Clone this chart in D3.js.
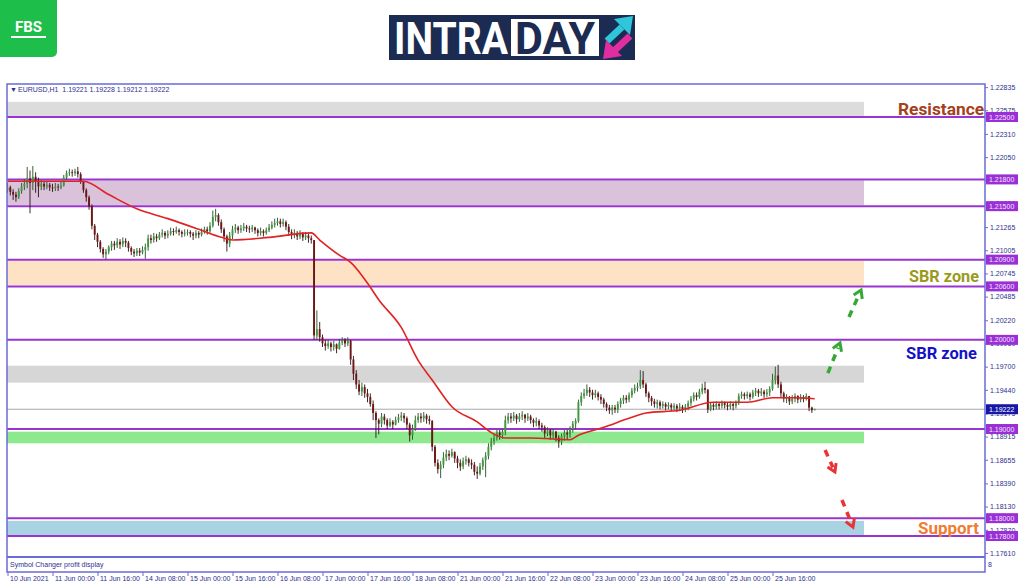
<!DOCTYPE html>
<html><head><meta charset="utf-8">
<script src="https://cdn.jsdelivr.net/npm/d3@7"></script>
<style>
body{margin:0;background:#fff;}
svg{display:block;}
text{font-family:"Liberation Sans",Arial,sans-serif;}
</style></head><body>
<svg id="c" width="1024" height="587"></svg>
<script>
// ---------- DATA ----------
const firstOpen = 1.2168;
const closes = [
1.2171,1.2166,1.2163,1.2160,1.2167,1.2172,1.2175,
1.2181,1.2176,1.2183,1.2178,1.2172,
1.2175,1.2172,1.2174,1.2171,1.2170,1.2172,1.2171,1.2173,
1.2182,1.2187,1.2188,1.2187,1.2189,1.2186,1.2178,
1.2168,1.2160,1.2150,1.2128,1.2118,1.2110,1.2102,1.2096,1.2099,
1.2104,1.2108,1.2106,1.2110,1.2107,1.2111,1.2109,1.2103,1.2099,1.2097,1.2100,1.2098,1.2101,1.2104,
1.2114,1.2112,1.2116,1.2114,1.2118,1.2120,1.2117,
1.2119,1.2122,1.2121,1.2123,1.2121,1.2119,1.2120,1.2121,1.2119,1.2117,1.2120,1.2118,1.2121,1.2124,1.2122,
1.2128,1.2138,1.2140,1.2132,1.2124,1.2116,1.2108,1.2117,
1.2124,1.2126,1.2123,1.2125,1.2127,1.2125,1.2124,1.2126,1.2123,1.2120,1.2122,1.2120,1.2123,1.2126,1.2129,1.2131,1.2133,1.2130,1.2132,1.2127,
1.2121,1.2118,1.2120,1.2116,1.2119,1.2115,1.2117,1.2114,1.2112,
1.2005,1.2012,1.2003,1.1996,1.1993,1.1996,1.1992,1.1995,1.1990,1.1997,1.2000,1.1996,1.1999,
1.1978,1.1962,1.1950,1.1942,1.1947,1.1940,1.1936,1.1928,1.1918,1.1910,
1.1906,1.1914,1.1910,1.1904,1.1908,1.1905,1.1910,1.1913,1.1915,1.1912,1.1905,1.1893,1.1900,1.1910,1.1914,1.1912,1.1915,1.1911,1.1909,
1.1880,1.1862,1.1855,1.1860,
1.1868,1.1872,1.1870,1.1874,1.1867,1.1862,1.1858,1.1864,1.1866,1.1862,1.1860,1.1852,1.1850,1.1858,1.1865,1.1870,1.1880,1.1886,1.1890,1.1896,1.1893,1.1897,1.1910,1.1914,
1.1912,1.1915,1.1911,1.1914,1.1916,1.1912,1.1914,1.1910,1.1907,1.1909,1.1904,1.1902,1.1895,1.1899,1.1893,1.1897,1.1890,1.1886,1.1892,1.1896,1.1894,1.1900,1.1906,1.1909,1.1930,1.1937,
1.1940,1.1944,1.1941,1.1938,1.1940,1.1936,1.1933,1.1928,1.1924,1.1921,1.1924,1.1922,1.1928,1.1932,1.1935,1.1933,1.1938,1.1943,1.1946,1.1948,1.1955,1.1950,1.1940,1.1935,1.1931,1.1928,1.1930,1.1926,
1.1928,1.1925,1.1927,1.1924,1.1926,1.1923,1.1925,1.1922,1.1925,1.1929,1.1934,1.1938,1.1936,1.1942,1.1946,1.1944,1.1922,
1.1927,1.1925,1.1928,1.1926,1.1929,1.1927,1.1925,1.1928,1.1926,1.1929,
1.1937,1.1939,1.1937,1.1939,1.1936,1.1941,1.1943,1.1940,1.1942,1.1939,1.1941,1.1945,1.1955,1.1960,1.1950,1.1940,1.1934,
1.1936,1.1931,1.1934,1.1937,1.1933,1.1936,1.1934,1.1937,1.1924,1.1921,1.19222
];
const highs = [
1.2176,1.2173,1.2169,1.2166,1.2170,1.2176,1.2180,
1.2194,1.2190,1.2195,1.2188,1.2182,
1.2179,1.2178,1.2178,1.2176,1.2175,1.2176,1.2175,1.2178,
1.2185,1.2190,1.2192,1.2191,1.2192,1.2194,1.2188,
1.2178,1.2170,1.2162,1.2152,1.2130,1.2120,1.2112,1.2104,1.2102,
1.2106,1.2111,1.2111,1.2114,1.2113,1.2115,1.2114,1.2111,1.2105,1.2102,1.2103,1.2103,1.2105,1.2108,
1.2118,1.2118,1.2120,1.2119,1.2121,1.2124,1.2122,
1.2123,1.2126,1.2125,1.2127,1.2125,1.2123,1.2124,1.2124,1.2123,1.2121,1.2123,1.2122,1.2125,1.2127,1.2127,
1.2132,1.2145,1.2147,1.2142,1.2135,1.2126,1.2118,1.2121,
1.2128,1.2130,1.2128,1.2129,1.2131,1.2129,1.2128,1.2129,1.2127,1.2125,1.2126,1.2124,1.2126,1.2130,1.2133,1.2136,1.2137,1.2136,1.2136,1.2134,
1.2130,1.2124,1.2124,1.2122,1.2123,1.2121,1.2121,1.2119,1.2117,
1.2095,1.2033,1.2020,1.2006,1.2000,1.2000,1.1998,1.1999,1.1996,1.2001,1.2003,1.2002,1.2003,
1.2000,1.1982,1.1966,1.1955,1.1952,1.1950,1.1945,1.1940,1.1932,1.1920,
1.1912,1.1918,1.1917,1.1912,1.1912,1.1910,1.1914,1.1917,1.1919,1.1918,1.1914,1.1907,1.1905,1.1915,1.1918,1.1918,1.1919,1.1917,1.1915,
1.1910,1.1882,1.1866,1.1864,
1.1874,1.1877,1.1876,1.1878,1.1875,1.1870,1.1866,1.1868,1.1870,1.1868,1.1866,1.1863,1.1858,1.1862,1.1868,1.1874,1.1884,1.1890,1.1895,1.1899,1.1899,1.1900,1.1915,1.1918,
1.1918,1.1919,1.1917,1.1918,1.1920,1.1917,1.1918,1.1916,1.1912,1.1913,1.1911,1.1907,1.1904,1.1902,1.1900,1.1900,1.1898,1.1893,1.1895,1.1899,1.1899,1.1903,1.1909,1.1912,1.1933,1.1941,
1.1945,1.1950,1.1947,1.1944,1.1944,1.1942,1.1939,1.1935,1.1930,1.1927,1.1927,1.1927,1.1931,1.1935,1.1938,1.1938,1.1941,1.1946,1.1950,1.1952,1.1966,1.1965,1.1952,1.1942,1.1937,1.1934,1.1933,1.1932,
1.1931,1.1930,1.1930,1.1929,1.1929,1.1928,1.1929,1.1927,1.1928,1.1932,1.1937,1.1941,1.1941,1.1945,1.1951,1.1953,1.1945,
1.1930,1.1929,1.1931,1.1930,1.1932,1.1931,1.1930,1.1931,1.1930,1.1932,
1.1940,1.1942,1.1941,1.1942,1.1941,1.1944,1.1946,1.1945,1.1946,1.1944,1.1945,1.1948,1.1962,1.1970,1.1972,1.1953,1.1942,
1.1939,1.1937,1.1938,1.1940,1.1938,1.1939,1.1938,1.1940,1.1937,1.1925,1.19228
];
const lows = [
1.2165,1.2162,1.2157,1.2155,1.2158,1.2164,1.2168,
1.2170,1.2142,1.2168,1.2165,1.2160,
1.2168,1.2168,1.2169,1.2167,1.2166,1.2167,1.2167,1.2169,
1.2172,1.2180,1.2184,1.2183,1.2184,1.2182,1.2175,
1.2165,1.2155,1.2146,1.2124,1.2112,1.2104,1.2098,1.2092,1.2090,
1.2096,1.2100,1.2101,1.2103,1.2102,1.2104,1.2104,1.2099,1.2095,1.2093,1.2094,1.2094,1.2096,1.2091,
1.2100,1.2108,1.2109,1.2110,1.2112,1.2115,1.2113,
1.2114,1.2117,1.2117,1.2119,1.2117,1.2115,1.2116,1.2117,1.2115,1.2112,1.2114,1.2114,1.2116,1.2119,1.2118,
1.2120,1.2126,1.2133,1.2128,1.2120,1.2110,1.2099,1.2104,
1.2113,1.2120,1.2119,1.2120,1.2122,1.2121,1.2120,1.2121,1.2119,1.2116,1.2117,1.2116,1.2118,1.2121,1.2124,1.2126,1.2128,1.2126,1.2127,1.2123,
1.2117,1.2113,1.2114,1.2112,1.2113,1.2111,1.2112,1.2109,1.2108,
1.2000,1.2000,1.1998,1.1992,1.1988,1.1990,1.1987,1.1988,1.1985,1.1989,1.1994,1.1992,1.1993,
1.1972,1.1955,1.1945,1.1938,1.1937,1.1935,1.1930,1.1925,1.1910,1.1890,
1.1894,1.1902,1.1905,1.1900,1.1902,1.1900,1.1904,1.1907,1.1909,1.1907,1.1900,1.1886,1.1888,1.1898,1.1907,1.1907,1.1908,1.1906,1.1905,
1.1875,1.1858,1.1850,1.1845,
1.1856,1.1864,1.1865,1.1868,1.1862,1.1856,1.1853,1.1855,1.1860,1.1858,1.1855,1.1848,1.1844,1.1848,1.1854,1.1846,1.1866,1.1876,1.1882,1.1887,1.1888,1.1889,1.1893,1.1906,
1.1907,1.1909,1.1906,1.1908,1.1910,1.1907,1.1909,1.1906,1.1902,1.1903,1.1900,1.1897,1.1890,1.1892,1.1888,1.1889,1.1886,1.1879,1.1882,1.1887,1.1888,1.1890,1.1896,1.1900,1.1907,1.1926,
1.1934,1.1937,1.1936,1.1933,1.1935,1.1932,1.1928,1.1924,1.1920,1.1917,1.1916,1.1918,1.1918,1.1924,1.1928,1.1929,1.1930,1.1935,1.1940,1.1942,1.1945,1.1946,1.1936,1.1930,1.1926,1.1924,1.1923,1.1922,
1.1923,1.1921,1.1922,1.1920,1.1921,1.1919,1.1920,1.1918,1.1919,1.1921,1.1926,1.1931,1.1932,1.1934,1.1939,1.1940,1.1918,
1.1920,1.1921,1.1922,1.1922,1.1923,1.1923,1.1921,1.1922,1.1921,1.1923,
1.1927,1.1934,1.1933,1.1934,1.1932,1.1934,1.1937,1.1936,1.1937,1.1935,1.1936,1.1937,1.1943,1.1950,1.1946,1.1936,1.1930,
1.1929,1.1927,1.1928,1.1930,1.1929,1.1930,1.1930,1.1932,1.1920,1.1918,1.19212
];
// moving average (read at selected bars)
const maIdx = [0,27,36,46,57,68,76,80,93,108,111,118,122,129,132,140,146,151,158,167,172,177,186,200,203,212,221,227,239,251,263,272,280,287];
const maVal = [1.2178,1.2178,1.2163,1.2147,1.2136,1.2124,1.2115,1.2112,1.2115,1.2120,1.2112,1.2095,1.2087,1.2059,1.2045,1.2014,1.1977,1.1955,1.1925,1.1908,1.1896,1.1890,1.1890,1.1888,1.1893,1.1902,1.1912,1.1918,1.1921,1.1930,1.1930,1.1935,1.1935,1.1934];

const timeTickIdx = [0,16,32,48,64,80,96,112,128,144,160,176,192,208,224,240,256,272];
const timeLabels = ["10 Jun 2021","11 Jun 00:00","11 Jun 16:00","14 Jun 08:00","15 Jun 00:00","15 Jun 16:00","16 Jun 08:00","17 Jun 00:00","17 Jun 16:00","18 Jun 08:00","21 Jun 00:00","21 Jun 16:00","22 Jun 08:00","23 Jun 00:00","23 Jun 16:00","24 Jun 08:00","25 Jun 00:00","25 Jun 16:00"];
const priceTicks = [1.22835,1.22575,1.22310,1.22050,1.21790,1.21530,1.21265,1.21005,1.20745,1.20485,1.20220,1.19960,1.19700,1.19440,1.19175,1.18915,1.18655,1.18390,1.18130,1.17870,1.17610];
const levels = [1.22500,1.21800,1.21500,1.20900,1.20600,1.20000,1.19000,1.18000,1.17800];
const zoneLow  = [1.2251,1.2151,1.2061,1.1952,1.1884,1.1781];
const zoneHigh = [1.2267,1.2179,1.2089,1.1971,1.1897,1.1797];
const currentPrice = 1.19222;
const headerText = "EURUSD,H1  1.19221 1.19228 1.19212 1.19222";
const noteTexts  = ["Resistance","SBR zone","SBR zone","Support"];
const notePrices = [1.22522,1.20649,1.19785,1.17823];
// arrows: [startIdx,startPrice,endIdx,endPrice]
const arrowsUp   = [[299.2,1.20257,303.5,1.20559],[291.7,1.19628,296.0,1.19965]];
const arrowsDown = [[290.7,1.18765,294.2,1.18518],[296.7,1.18204,300.6,1.17901]];

// ---------- STYLE / LAYOUT ----------
const L = 7, R = 985, T = 84, B = 556, SUBB = 572;
const zoneFill = ["#dcdcdc","#d9c2da","#fde2c6","#d6d6d6","#8ee88e","#a9d3e3"];
const noteFill = ["#a5401c","#9a9a1c","#1212c8","#f07c30"];
const noteRight = [984,979,977,979];
const noteWidth = [86,70,71,61];
const axisCol = "#6b6bd8", textCol = "#2f2f8f", levelCol = "#9a34d0";

const svg = d3.select("#c");
const x = d3.scaleLinear().domain([0,272]).range([7.5,772.5]);
const y = d3.scaleLinear().domain([1.175756,1.228702]).range([B,T]);

// logos
const fbs = svg.append("g");
fbs.append("rect").attr("x",-4).attr("y",-4).attr("width",61).attr("height",61).attr("rx",5).attr("fill","#1ebe4a");
fbs.append("text").attr("x",28.5).attr("y",32).attr("text-anchor","middle").attr("fill","#fff")
  .style("font-family","Roboto").style("font-weight",700).style("font-size","15px").text("FBS");
fbs.append("rect").attr("x",11).attr("y",36).attr("width",35).attr("height",2).attr("fill","#fff");

const lg = svg.append("g");
lg.append("rect").attr("x",389).attr("y",15).attr("width",246).attr("height",45).attr("fill","#1b2b52");
lg.append("text").attr("x",394).attr("y",54).attr("fill","#fff").attr("textLength",114).attr("lengthAdjust","spacingAndGlyphs")
  .style("font-family","Roboto").style("font-weight",700).style("font-size","44px").text("INTRA");
lg.append("rect").attr("x",511).attr("y",19).attr("width",88).attr("height",37).attr("fill","#fff");
lg.append("text").attr("x",515).attr("y",54).attr("fill","#1b2b52").attr("textLength",80).attr("lengthAdjust","spacingAndGlyphs")
  .style("font-family","Roboto").style("font-weight",700).style("font-size","44px").text("DAY");
lg.append("line").attr("x1",607).attr("y1",41).attr("x2",622).attr("y2",27).attr("stroke","#2ec6d8").attr("stroke-width",7);
lg.append("polygon").attr("points","633,16 614,19 630,35").attr("fill","#2ec6d8");
lg.append("line").attr("x1",630).attr("y1",36).attr("x2",615).attr("y2",50).attr("stroke","#e02ea0").attr("stroke-width",7);
lg.append("polygon").attr("points","603,59 622,56 606,40").attr("fill","#e02ea0");

// clip
svg.append("clipPath").attr("id","plot").append("rect").attr("x",L).attr("y",T).attr("width",R-L).attr("height",B-T);
const plot = svg.append("g").attr("clip-path","url(#plot)");

// zones
plot.selectAll("rect.zone").data(zoneLow).join("rect").attr("class","zone")
  .attr("x",L).attr("width",864-L)
  .attr("y",(d,i)=>y(zoneHigh[i])).attr("height",(d,i)=>y(d)-y(zoneHigh[i]))
  .attr("fill",(d,i)=>zoneFill[i]);

// current price line
plot.append("line").attr("x1",L).attr("x2",R).attr("y1",y(currentPrice)).attr("y2",y(currentPrice))
  .attr("stroke","#a8a8a8").attr("stroke-width",1);

// level lines
plot.selectAll("line.lvl").data(levels).join("line").attr("class","lvl")
  .attr("x1",L).attr("x2",R).attr("y1",d=>y(d)).attr("y2",d=>y(d))
  .attr("stroke",levelCol).attr("stroke-width",2);

// candles
const bars = closes.map((c,i)=>({i, o: i===0?firstOpen:closes[i-1], c, h: highs[i], l: lows[i]}));
plot.selectAll("line.wick").data(bars).join("line").attr("class","wick")
  .attr("x1",d=>x(d.i)).attr("x2",d=>x(d.i)).attr("y1",d=>y(d.h)).attr("y2",d=>y(d.l))
  .attr("stroke",d=>d.c>=d.o?"#244f24":"#2a1010").attr("stroke-width",0.9);
plot.selectAll("rect.body").data(bars).join("rect").attr("class","body")
  .attr("x",d=>x(d.i)-0.95).attr("width",1.9)
  .attr("y",d=>y(Math.max(d.o,d.c))).attr("height",d=>Math.max(0.8,Math.abs(y(d.o)-y(d.c))))
  .attr("fill",d=>d.c>=d.o?"#3f9a3f":"#6e1616");

// MA line
const maPts = maIdx.map((d,i)=>[d,maVal[i]]);
plot.append("path").datum(maPts)
  .attr("d",d3.line().x(d=>x(d[0])).y(d=>y(d[1])).curve(d3.curveMonotoneX))
  .attr("fill","none").attr("stroke","#e02222").attr("stroke-width",1.6);

// arrows
function drawArrow(a,col){
  const x1=x(a[0]),y1=y(a[1]),x2=x(a[2]),y2=y(a[3]);
  const ang=Math.atan2(y2-y1,x2-x1);
  const bx=x2-Math.cos(ang)*5, by=y2-Math.sin(ang)*5;
  plot.append("line").attr("x1",x1).attr("y1",y1).attr("x2",bx).attr("y2",by)
    .attr("stroke",col).attr("stroke-width",3.5).attr("stroke-dasharray","7,6");
  const h=9, s=0.55;
  const p1=[x2-h*Math.cos(ang-s),y2-h*Math.sin(ang-s)];
  const p2=[x2-h*Math.cos(ang+s),y2-h*Math.sin(ang+s)];
  plot.append("polyline").attr("points",`${p1} ${x2},${y2} ${p2}`)
    .attr("fill","none").attr("stroke",col).attr("stroke-width",3).attr("stroke-linejoin","miter");
}
arrowsUp.forEach(a=>drawArrow(a,"#36a836"));
arrowsDown.forEach(a=>drawArrow(a,"#e83434"));

// notes
svg.selectAll("text.note").data(noteTexts).join("text").attr("class","note")
  .attr("x",(d,i)=>noteRight[i]-noteWidth[i]).attr("y",(d,i)=>y(notePrices[i]))
  .attr("textLength",(d,i)=>noteWidth[i]).attr("lengthAdjust","spacingAndGlyphs")
  .attr("fill",(d,i)=>noteFill[i])
  .style("font-family","Roboto").style("font-weight",700).style("font-size","17px")
  .text(d=>d);

// header
svg.append("text").attr("x",10).attr("y",92).attr("fill",textCol).style("font-size","7px").text("\u25BC");
svg.append("text").attr("x",18).attr("y",92).attr("fill",textCol).style("font-size","7px").attr("xml:space","preserve").text(headerText);

// frame
const fr = svg.append("g").attr("fill","none").attr("stroke",axisCol);
fr.append("rect").attr("x",L).attr("y",T).attr("width",R-L).attr("height",SUBB-T).attr("stroke-width",1.5);
fr.append("line").attr("x1",L).attr("x2",R).attr("y1",B+1).attr("y2",B+1).attr("stroke-width",2.2);
svg.append("text").attr("x",10).attr("y",567).attr("fill",textCol).style("font-size","7px").text("Symbol Changer profit display");
svg.append("text").attr("x",988).attr("y",567).attr("fill",textCol).style("font-size","7px").text("8");

// price axis
const ya = svg.append("g").attr("transform",`translate(${R},0)`)
  .call(d3.axisRight(y).tickValues(priceTicks).tickSize(3).tickPadding(2).tickFormat(d3.format(".5f")));
ya.select(".domain").remove();
ya.selectAll("line").attr("stroke",axisCol);
ya.selectAll("text").attr("fill",textCol).style("font-size","7px").style("font-family","Liberation Sans");

// time axis
const xa = svg.append("g").attr("transform",`translate(0,${SUBB})`)
  .call(d3.axisBottom(x).tickValues(timeTickIdx).tickSize(4).tickFormat((d,i)=>timeLabels[i]));
xa.select(".domain").remove();
xa.selectAll("line").attr("stroke",axisCol);
xa.selectAll("text").attr("fill",textCol).style("font-size","7px").style("font-family","Liberation Sans")
  .attr("text-anchor","start").attr("dx",2).attr("y",4).attr("dy","0.71em");

// level price boxes
const bx = svg.append("g");
bx.selectAll("rect").data(levels).join("rect").attr("x",R+1).attr("width",32).attr("y",d=>y(d)-5).attr("height",10).attr("fill","#9b2fd6");
bx.selectAll("text").data(levels).join("text").attr("x",R+4).attr("y",d=>y(d)+2.6).attr("fill","#f3e8ff")
  .style("font-size","7px").text(d=>d3.format(".5f")(d));
bx.append("rect").attr("x",R+1).attr("width",32).attr("y",y(currentPrice)-5).attr("height",10).attr("fill","#1717a6");
bx.append("text").attr("x",R+4).attr("y",y(currentPrice)+2.6).attr("fill","#fff").style("font-size","7px").text(d3.format(".5f")(currentPrice));
</script>
</body></html>
